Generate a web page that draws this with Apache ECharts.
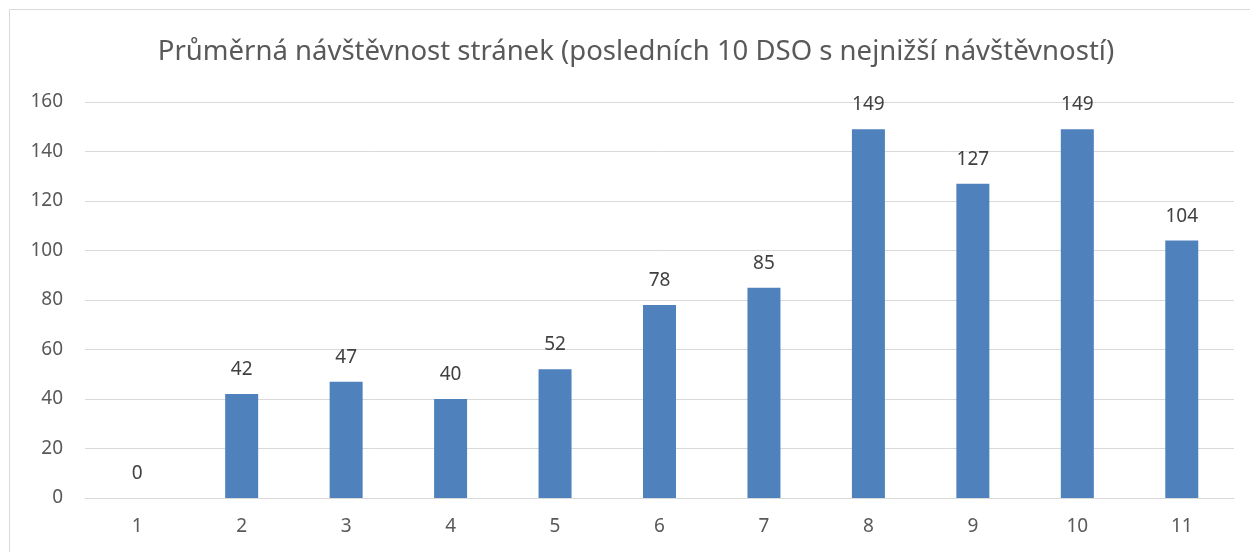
<!DOCTYPE html>
<html><head><meta charset="utf-8">
<script src="https://cdn.jsdelivr.net/npm/echarts@6/dist/echarts.min.js"></script>
<style>html,body{margin:0;padding:0;background:#fff}#c{width:1250px;height:552px}</style>
</head><body><div id="c"></div>
<script>
const categories = ['1','2','3','4','5','6','7','8','9','10','11'];
const values = [0, 42, 47, 40, 52, 78, 85, 149, 127, 149, 104];
const titleText = 'Průměrná návštěvnost stránek (posledních 10 DSO s nejnižší návštěvností)';
const yMin = 0, yMax = 160, yStep = 20;

const chart = echarts.init(document.getElementById('c'));
const font = 'Noto Sans';
chart.setOption({
  animation: false,
  backgroundColor: '#fff',
  graphic: [
    {type:'rect', shape:{x:9.5,y:9.5,width:1260,height:600}, style:{fill:'none', stroke:'#d9d9d9', lineWidth:1}, silent:true, z:-1},
    {type:'text', x:636, y:52, style:{text:titleText, fontFamily:font, fontSize:27.5, fill:'#595959', textAlign:'center', textVerticalAlign:'middle'}, silent:true}
  ],
  grid: {left: 85, right: 16, top: 102, bottom: 54},
  xAxis: {type:'category', data: categories,
    axisLine:{show:true, lineStyle:{color:'#d9d9d9', width:1}},
    axisTick:{show:false},
    axisLabel:{fontFamily:font, fontSize:19, color:'#595959', margin:19}},
  yAxis: {type:'value', min:yMin, max:yMax, interval:yStep,
    axisLine:{show:false}, axisTick:{show:false},
    splitLine:{lineStyle:{color:'#d9d9d9', width:1}},
    axisLabel:{fontFamily:font, fontSize:19, color:'#595959', margin:22}},
  series: [{type:'bar', data: values, barWidth: 33,
    itemStyle:{color:'#4f81bd'},
    label:{show:true, position:'top', distance:15, fontFamily:font, fontSize:19, color:'#404040'}}]
});
</script></body></html>
